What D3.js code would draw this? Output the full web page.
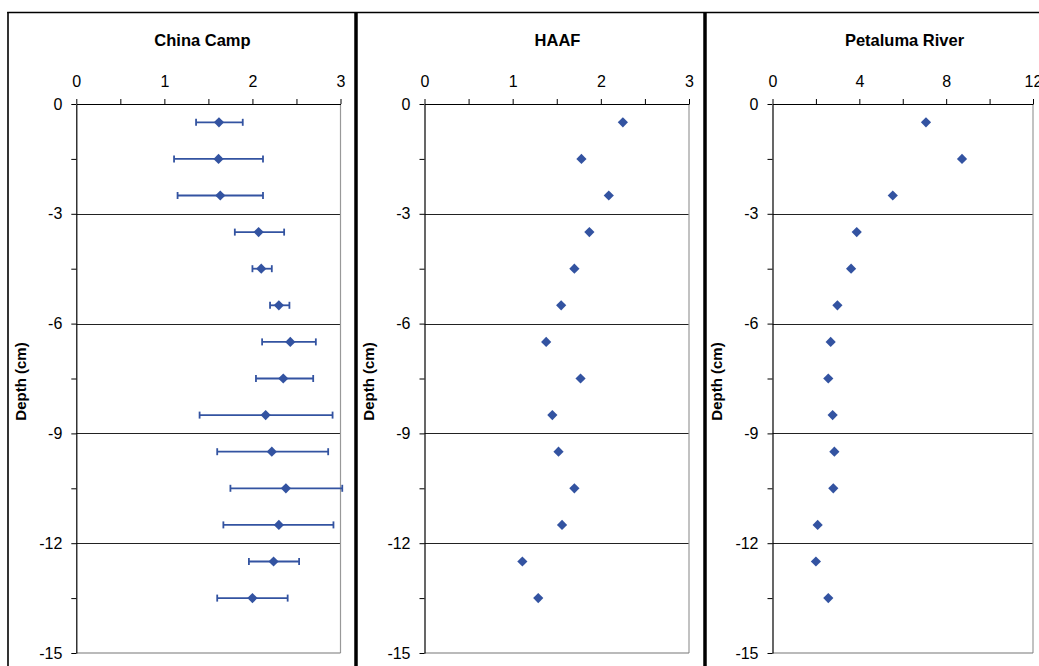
<!DOCTYPE html>
<html>
<head>
<meta charset="utf-8">
<script src="https://cdn.jsdelivr.net/npm/d3@7"></script>
<style>
  html, body { margin: 0; padding: 0; background: #fff; }
  svg { display: block; }
  text { font-family: Arial, "Liberation Sans", sans-serif; fill: #000; }
</style>
</head>
<body>
<svg id="chart" width="1039" height="666"></svg>
<script>
// ---- Data ----
const depths = [-0.5, -1.5, -2.5, -3.5, -4.5, -5.5, -6.5, -7.5, -8.5, -9.5, -10.5, -11.5, -12.5, -13.5];
const chinaCamp    = [1.62, 1.615, 1.635, 2.07, 2.10, 2.30, 2.43, 2.35, 2.15, 2.22, 2.38, 2.30, 2.24, 2.00];
const chinaCampLow = [1.36, 1.11, 1.15, 1.80, 2.00, 2.20, 2.11, 2.04, 1.40, 1.60, 1.75, 1.67, 1.96, 1.60];
const chinaCampHigh= [1.89, 2.12, 2.12, 2.36, 2.22, 2.42, 2.72, 2.69, 2.91, 2.86, 3.02, 2.92, 2.53, 2.40];
const haaf     = [2.25, 1.78, 2.09, 1.87, 1.70, 1.55, 1.38, 1.77, 1.45, 1.52, 1.70, 1.56, 1.11, 1.29];
const petaluma = [7.07, 8.73, 5.54, 3.88, 3.62, 2.99, 2.68, 2.57, 2.77, 2.85, 2.80, 2.08, 2.00, 2.57];
const titles = ["China Camp", "HAAF", "Petaluma River"];
const xMaxes = [3, 3, 12];
const xMinorSteps = [0.5, 0.5, 2];
const xMajorSteps = [1, 1, 4];
const yTickStep = 1.5, yMajorStep = 3, yMin = -15;
const yLabel = "Depth (cm)";

const COLOR = "#3353A1";
const svg = d3.select("#chart");

// panel layout
const plotTop = 104, plotBottom = 653;
const plots = [
  { left: 76.3, right: 340.5, titleX: 202.5 },
  { left: 424.5, right: 689, titleX: 557.5 },
  { left: 772.5, right: 1033, titleX: 904.5 }
];

const yScale = d3.scaleLinear().domain([0, yMin]).range([plotTop, plotBottom]);

const series = [
  { values: chinaCamp, lo: chinaCampLow, hi: chinaCampHigh },
  { values: haaf },
  { values: petaluma }
];

plots.forEach((p, i) => {
  const g = svg.append("g");
  const x = d3.scaleLinear().domain([0, xMaxes[i]]).range([p.left, p.right]);

  // title
  g.append("text").attr("x", p.titleX).attr("y", 46)
    .attr("text-anchor", "middle").style("font-weight", "bold").style("font-size", "16.5px")
    .text(titles[i]);

  // y label
  g.append("text")
    .attr("transform", `translate(${p.left - 56},${(plotTop + plotBottom) / 2 + 3}) rotate(-90)`)
    .attr("text-anchor", "middle").attr("dominant-baseline", "central")
    .style("font-weight", "bold").style("font-size", "15px")
    .text(yLabel);

  // gridlines at major y ticks (excluding 0 and min)
  const gridVals = d3.range(-yMajorStep, yMin, -yMajorStep);
  g.append("g").selectAll("line").data(gridVals).join("line")
    .attr("x1", p.left).attr("x2", p.right)
    .attr("y1", d => Math.round(yScale(d)) + 0.5).attr("y2", d => Math.round(yScale(d)) + 0.5)
    .attr("stroke", "#222").attr("stroke-width", 1);

  // plot area right & bottom border
  g.append("line").attr("x1", p.right).attr("x2", p.right).attr("y1", plotTop).attr("y2", plotBottom)
    .attr("stroke", "#999").attr("stroke-width", 1.2);
  g.append("line").attr("x1", p.left).attr("x2", p.right).attr("y1", plotBottom).attr("y2", plotBottom)
    .attr("stroke", "#777").attr("stroke-width", 1.2);

  // x axis (top)
  const xTicks = d3.range(0, xMaxes[i] + 1e-9, xMinorSteps[i]);
  const xAxis = d3.axisTop(x).tickValues(xTicks).tickSize(5).tickSizeOuter(0).tickPadding(12)
    .tickFormat(d => (Math.abs(d / xMajorSteps[i] - Math.round(d / xMajorSteps[i])) < 1e-9) ? d3.format("d")(d) : "");
  const xg = g.append("g").attr("transform", `translate(0,${plotTop})`).call(xAxis);
  xg.select(".domain").attr("stroke", "#000").attr("stroke-width", 1.2);
  xg.selectAll(".tick line").attr("stroke", "#000");
  xg.selectAll("text").style("font-size", "16px").attr("font-family", null);

  // y axis (left)
  const yTicks = d3.range(0, yMin - 1e-9, -yTickStep);
  const yAxis = d3.axisLeft(yScale).tickValues(yTicks).tickSize(5).tickSizeOuter(0).tickPadding(9)
    .tickFormat(d => (Math.abs(d / yMajorStep - Math.round(d / yMajorStep)) < 1e-9) ? d3.format("d")(d).replace("−", "-") : "");
  const yg = g.append("g").attr("transform", `translate(${p.left},0)`).call(yAxis);
  yg.select(".domain").attr("stroke", "#000").attr("stroke-width", 1.2);
  yg.selectAll(".tick line").attr("stroke", "#000");
  yg.selectAll("text").style("font-size", "16px").attr("font-family", null);

  const s = series[i];
  // error bars
  if (s.lo) {
    const eb = g.append("g").attr("stroke", COLOR).attr("stroke-width", 1.8).attr("fill", "none");
    depths.forEach((dep, k) => {
      const yy = yScale(dep);
      eb.append("line").attr("x1", x(s.lo[k])).attr("x2", x(s.hi[k])).attr("y1", yy).attr("y2", yy);
      eb.append("line").attr("x1", x(s.lo[k])).attr("x2", x(s.lo[k])).attr("y1", yy - 3.5).attr("y2", yy + 3.5);
      eb.append("line").attr("x1", x(s.hi[k])).attr("x2", x(s.hi[k])).attr("y1", yy - 3.5).attr("y2", yy + 3.5);
    });
  }
  // markers
  const sym = d3.symbol(d3.symbolSquare, 52);
  g.append("g").selectAll("path").data(depths).join("path")
    .attr("d", sym)
    .attr("transform", (d, k) => `translate(${x(s.values[k])},${yScale(d)}) rotate(45)`)
    .attr("fill", COLOR);
});

// chart borders
const borders = svg.append("g").attr("stroke", "#000").attr("fill", "none");
borders.append("line").attr("x1", 8).attr("x2", 8).attr("y1", 12).attr("y2", 666).attr("stroke-width", 1.6);
borders.append("line").attr("x1", 7.2).attr("x2", 1039).attr("y1", 12.5).attr("y2", 12.5).attr("stroke-width", 1.6);
borders.append("line").attr("x1", 356).attr("x2", 356).attr("y1", 12).attr("y2", 666).attr("stroke-width", 3.5);
borders.append("line").attr("x1", 705).attr("x2", 705).attr("y1", 12).attr("y2", 666).attr("stroke-width", 3.5);
</script>
</body>
</html>
